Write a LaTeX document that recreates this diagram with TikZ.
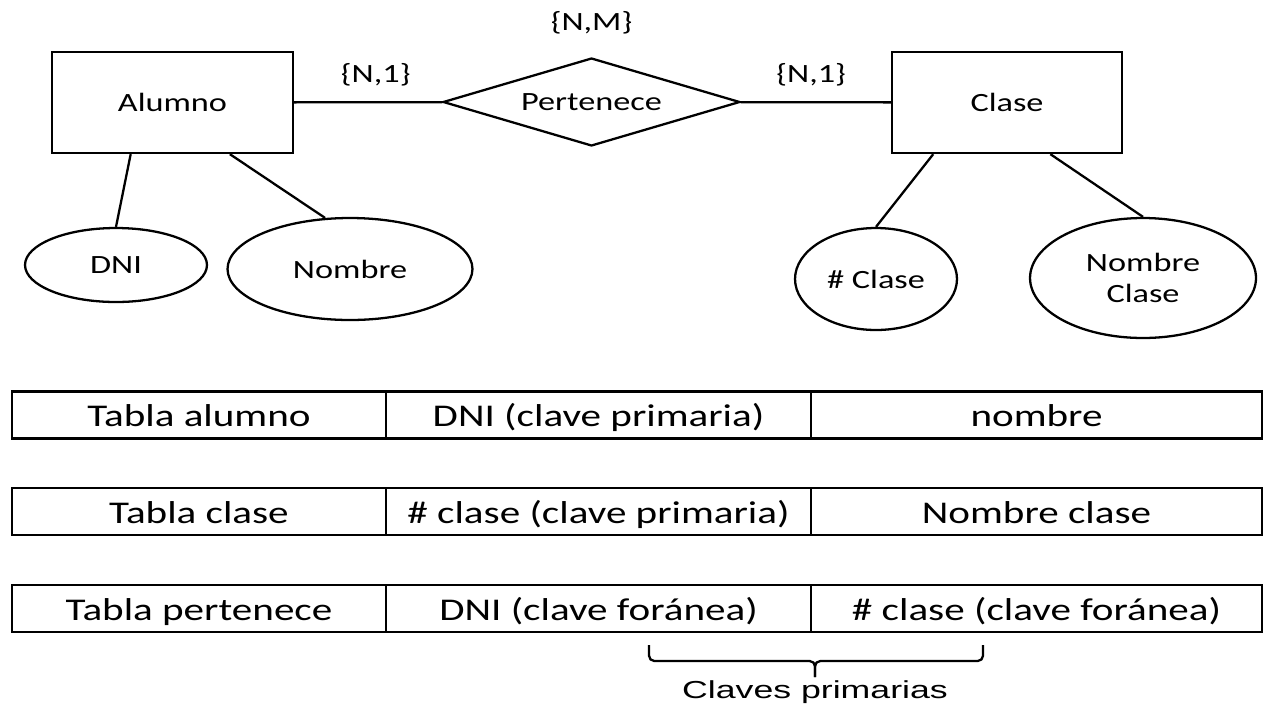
\documentclass[tikz,border=0pt]{standalone}
\usepackage{fontspec}
\usetikzlibrary{shapes.geometric,positioning}
\newfontfamily\erfont{Carlito}[FakeStretch=1.3]
\newfontfamily\clavesfont{Liberation Sans}[FakeStretch=1.45]

\begin{document}
\begin{tikzpicture}[x=0.02cm,y=-0.02cm,line width=1.3pt,
    font=\erfont\fontsize{15}{17.6}\selectfont,
    entity/.style={draw,rectangle,minimum height=2.02cm,inner sep=0pt},
    relation/.style={draw,diamond,aspect=3.4,minimum width=5.94cm,minimum height=1.76cm,inner sep=0pt},
    attrib/.style={draw,ellipse,inner sep=0pt,align=center},
    card/.style={inner sep=0pt},
    cell/.style={draw,rectangle,minimum height=0.94cm,inner sep=0pt,text height=15pt,text depth=1.5pt,
      font=\erfont\fontsize{18}{21}\selectfont}]
  \useasboundingbox (0,0) rectangle (1266,707);
  \draw
    (172.5,102.5) node[entity,minimum width=4.82cm] (alumno){Alumno}
    (591.5,102) node[relation] (rel){Pertenece}
    (1007,102.5) node[entity,minimum width=4.6cm] (clase){Clase}
    (116,265) node[attrib,minimum width=3.64cm,minimum height=1.48cm] (dni){DNI}
    (350,269) node[attrib,minimum width=4.9cm,minimum height=2.04cm] (nombre){Nombre}
    (876,279) node[attrib,minimum width=3.24cm,minimum height=2.04cm] (cnum){\# Clase}
    (1143,278) node[attrib,minimum width=4.52cm,minimum height=2.4cm] (cnombre){Nombre\\Clase};
  \node[card,above=0.44cm of rel] (nm){\{N,M\}};
  \begin{scope}[-]
    \draw (alumno) to node[card,pos=0.55,above=0.3cm] {\{N,1\}} (rel);
    \draw (rel) to node[card,pos=0.47,above=0.3cm] {\{N,1\}} (clase);
    \draw (alumno.-129) to (dni.north);
    \draw (alumno.-42) to (nombre.116);
    \draw (clase.-145) to (cnum.north);
    \draw (clase.-50) to (cnombre.north);
  \end{scope}
  \foreach \y/\a/\b/\c [count=\i] in {415/Tabla alumno/DNI (clave primaria)/nombre,
      511.5/Tabla clase/\# clase (clave primaria)/Nombre clase,
      608.5/Tabla pertenece/DNI (clave foránea)/\# clase (clave foránea)} {
    \node[cell,minimum width=7.48cm] (a\i) at (199,\y) {\a};
    \node[cell,minimum width=8.5cm] (b\i) at (598.5,\y) {\b};
    \node[cell,minimum width=9.02cm] (c\i) at (1036.5,\y) {\c};
  }
  \coordinate (kl) at (649,645);
  \coordinate (kr) at (983,645);
  \coordinate (kt) at (815,677);
  \draw[rounded corners=3pt] (kl) |- (815,661) -- (kt);
  \draw[rounded corners=3pt] (kr) |- (815,661) -- (kt);
  \node[font=\clavesfont\fontsize{14}{16}\selectfont] (claves) at (815,692) {Claves primarias};
\end{tikzpicture}
\end{document}
